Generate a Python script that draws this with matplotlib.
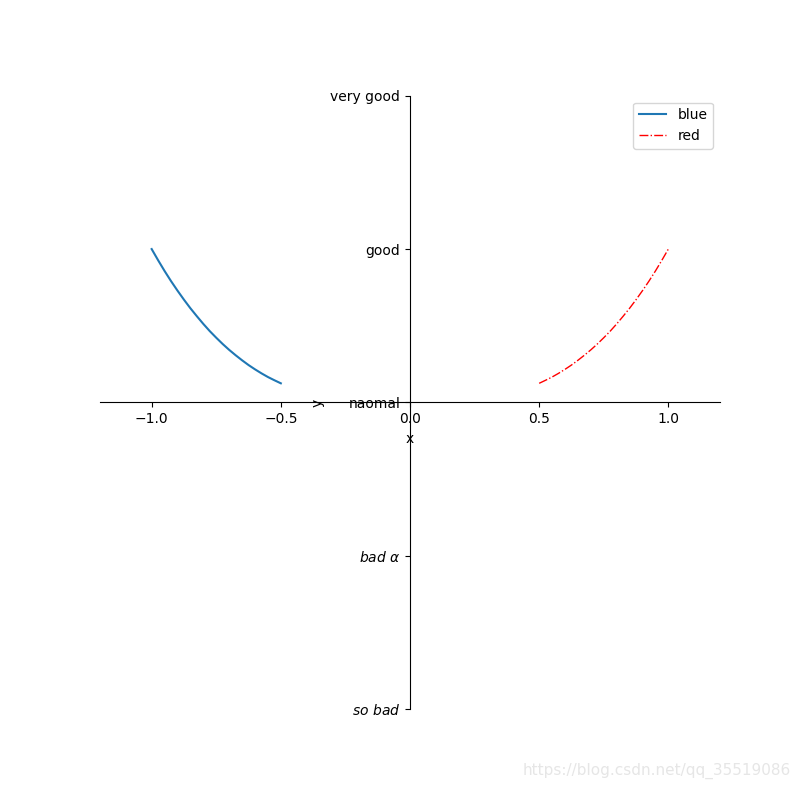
import matplotlib
matplotlib.use("Agg")
import matplotlib.pyplot as plt

# data
blue_x = [-1.0, -0.975, -0.95, -0.925, -0.9, -0.875, -0.85, -0.825, -0.8, -0.775, -0.75,
          -0.725, -0.7, -0.675, -0.65, -0.625, -0.6, -0.575, -0.55, -0.525, -0.5]
blue_y = [1.0, 0.927, 0.857, 0.791, 0.729, 0.670, 0.614, 0.562, 0.512, 0.465, 0.422,
          0.381, 0.343, 0.308, 0.275, 0.244, 0.216, 0.190, 0.166, 0.145, 0.125]
red_x = [0.5, 0.525, 0.55, 0.575, 0.6, 0.625, 0.65, 0.675, 0.7, 0.725, 0.75,
         0.775, 0.8, 0.825, 0.85, 0.875, 0.9, 0.925, 0.95, 0.975, 1.0]
red_y = [0.125, 0.145, 0.166, 0.190, 0.216, 0.244, 0.275, 0.308, 0.343, 0.381, 0.422,
         0.465, 0.512, 0.562, 0.614, 0.670, 0.729, 0.791, 0.857, 0.927, 1.0]
x_ticks = [-1.0, -0.5, 0.0, 0.5, 1.0]
y_ticks = [-2, -1, 0, 1, 2]
y_tick_labels = [r'$so\ bad$', r'$bad\ \alpha$', 'naomal', 'good', 'very good']

fig = plt.figure(figsize=(8, 7.97), dpi=100)
ax = fig.add_subplot(111)
ax.plot(blue_x, blue_y, label='blue')
ax.plot(red_x, red_y, color='red', linewidth=1.0, linestyle='-.', label='red')
ax.set_xlim(-1.2, 1.2)
ax.set_ylim(-2, 2)
ax.set_xlabel('x')
ax.set_ylabel('y')
ax.set_xticks(x_ticks)
ax.set_yticks(y_ticks)
ax.set_yticklabels(y_tick_labels)
ax.spines['right'].set_color('none')
ax.spines['top'].set_color('none')
ax.xaxis.set_ticks_position('bottom')
ax.yaxis.set_ticks_position('left')
ax.spines['bottom'].set_position(('data', 0))
ax.spines['left'].set_position(('data', 0))
ax.legend(loc='upper right')

fig.text(0.988, 0.022, 'https://blog.csdn.net/qq_35519086', ha='right', va='bottom',
         color='#e6e6e6', fontsize=11)

fig.savefig('out.png', dpi=100)
